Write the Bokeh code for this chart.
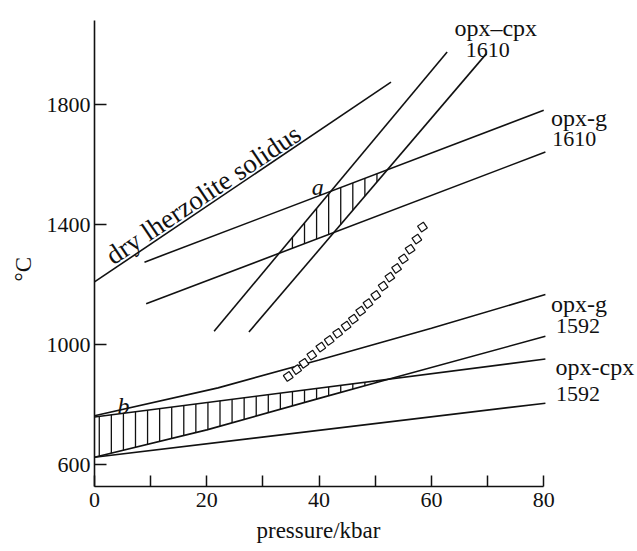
import numpy as np
from bokeh.plotting import figure
from bokeh.models import Range1d, FixedTicker, Title
from bokeh.core.properties import value
from bokeh.embed import file_html
from bokeh.resources import INLINE

# ---------------- data (pressure in kbar, temperature in degC) ----------------
solidus_P = [0.0, 52.8]
solidus_T = [1210, 1876]

cpx1610_hi_P = [21.3, 62.8]      # left steep line (opx-cpx 1610)
cpx1610_hi_T = [1046, 1976]
cpx1610_lo_P = [27.5, 69.8]      # right steep line (opx-cpx 1610)
cpx1610_lo_T = [1043, 1971]

g1610_hi_P = [8.9, 80.0]         # opx-g 1610 upper
g1610_hi_T = [1276, 1782]
g1610_lo_P = [9.2, 80.3]         # opx-g 1610 lower
g1610_lo_T = [1137, 1643]

g1592_hi_P = [0.0, 22.0, 40.0, 60.0, 80.3]   # opx-g 1592 upper
g1592_hi_T = [764, 857, 950, 1056, 1168]
g1592_lo_P = [0.0, 20.0, 40.0, 52.0, 80.3]   # opx-g 1592 lower
g1592_lo_T = [626, 717, 822, 884, 1029]

cpx1592_hi_P = [0.0, 80.3]       # opx-cpx 1592 upper
cpx1592_hi_T = [760, 953]
cpx1592_lo_P = [0.0, 80.3]       # opx-cpx 1592 lower
cpx1592_lo_T = [626, 806]

sq_P = [34.5, 36.0, 37.3, 38.7, 40.3, 41.8, 43.3, 44.8, 46.1, 47.4,
        48.7, 50.1, 51.4, 52.6, 53.8, 55.0, 56.2, 57.4, 58.4]
sq_T = [895, 918, 939, 966, 993, 1015, 1039, 1063, 1086, 1113,
        1138, 1165, 1196, 1226, 1255, 1287, 1319, 1353, 1393]

x_ticks = [0, 10, 20, 30, 40, 50, 60, 70, 80]
x_tick_labels = {0: "0", 10: "", 20: "20", 30: "", 40: "40", 50: "", 60: "60", 70: "", 80: "80"}
y_ticks = [600, 1000, 1400, 1800]

word_texts = ["opx\u2013cpx", "opx-g", "opx-g", "opx-cpx"]
word_P = [64.1, 81.3, 81.3, 82.1]
word_T = [2055, 1755, 1137, 926]
num_texts = ["1610", "1610", "1592", "1592"]
num_P = [66.1, 81.5, 82.2, 82.2]
num_T = [1982, 1687, 1062, 837]
pt_texts = ["a", "b"]
pt_P = [38.7, 4.1]
pt_T = [1528, 798]

# ---------------- figure ----------------
SERIF = "Liberation Serif"
INK = "#111111"

p = figure(width=637, height=551, x_range=Range1d(0, 96.7), y_range=Range1d(528.3, 2148),
           output_backend="svg", toolbar_location=None,
           min_border_left=94, min_border_right=0, min_border_top=0, min_border_bottom=65)
p.outline_line_color = None
p.grid.visible = False
p.background_fill_color = "white"
p.border_fill_color = "white"

for ax in (p.xaxis[0], p.yaxis[0]):
    ax.axis_line_width = 1.6
    ax.axis_line_color = INK
    ax.major_tick_line_width = 1.5
    ax.major_tick_line_color = INK
    ax.major_tick_out = 0
    ax.minor_tick_in = 0
    ax.minor_tick_out = 0
    ax.major_label_text_font = SERIF
    ax.major_label_text_font_size = "22px"
    ax.major_label_text_color = INK

p.xaxis.ticker = FixedTicker(ticks=x_ticks)
p.xaxis.major_label_overrides = x_tick_labels
p.xaxis.major_tick_in = 11
p.xaxis.bounds = (0, 80)
p.xaxis.major_label_standoff = 6

p.yaxis.ticker = FixedTicker(ticks=y_ticks)
p.yaxis.major_tick_in = 12
p.yaxis.bounds = (528.3, 2082)
p.yaxis.major_label_standoff = 4

# ---------------- lines ----------------
lw = 1.6
for P, T in [(solidus_P, solidus_T), (cpx1610_hi_P, cpx1610_hi_T), (cpx1610_lo_P, cpx1610_lo_T),
             (g1610_hi_P, g1610_hi_T), (g1610_lo_P, g1610_lo_T),
             (g1592_hi_P, g1592_hi_T), (g1592_lo_P, g1592_lo_T),
             (cpx1592_hi_P, cpx1592_hi_T), (cpx1592_lo_P, cpx1592_lo_T)]:
    p.line(P, T, line_color=INK, line_width=lw)

# ---------------- hatching (vertical strokes inside band intersections) ----------------
def line_at(P, xs, ys):
    xs = np.asarray(xs, float); ys = np.asarray(ys, float)
    if len(xs) > 2:
        return np.interp(P, xs, ys, left=np.nan, right=np.nan)
    return ys[0] + (ys[1] - ys[0]) / (xs[1] - xs[0]) * (P - xs[0])

hatch_x = np.arange(0.85, 80.0, 2.15)
hx0, hy0, hx1, hy1 = [], [], [], []
top_a = np.minimum(line_at(hatch_x, g1610_hi_P, g1610_hi_T), line_at(hatch_x, cpx1610_hi_P, cpx1610_hi_T))
bot_a = np.maximum(line_at(hatch_x, g1610_lo_P, g1610_lo_T), line_at(hatch_x, cpx1610_lo_P, cpx1610_lo_T))
top_b = np.minimum(line_at(hatch_x, g1592_hi_P, g1592_hi_T), line_at(hatch_x, cpx1592_hi_P, cpx1592_hi_T))
bot_b = np.maximum(line_at(hatch_x, g1592_lo_P, g1592_lo_T), line_at(hatch_x, cpx1592_lo_P, cpx1592_lo_T))
for top, bot in [(top_a, bot_a), (top_b, bot_b)]:
    ok = (top - bot) > 2
    hx0 += list(hatch_x[ok]); hx1 += list(hatch_x[ok])
    hy0 += list(bot[ok]); hy1 += list(top[ok])
p.segment(hx0, hy0, hx1, hy1, line_color=INK, line_width=1.3)

# ---------------- squares ----------------
p.scatter(sq_P, sq_T, marker="square", size=7, angle=0.6, fill_color="white",
          line_color=INK, line_width=1.2)

# ---------------- texts ----------------
p.text(word_P, word_T, text=word_texts, text_font=value(SERIF), text_font_size="24px",
       text_color=INK, text_align="left", text_baseline="alphabetic")
p.text(num_P, num_T, text=num_texts, text_font=value(SERIF), text_font_size="22px",
       text_color=INK, text_align="left", text_baseline="alphabetic")
p.text(pt_P, pt_T, text=pt_texts, text_font=value(SERIF), text_font_size="24px",
       text_font_style="italic", text_color=INK, text_align="left", text_baseline="alphabetic")
p.text([2.5], [1290], text=["dry lherzolite solidus"], text_font=value(SERIF),
       text_font_size="27px", angle=0.59, text_color=INK, text_align="left",
       text_baseline="alphabetic")

# axis titles as side titles
p.add_layout(Title(text="pressure/kbar", align="left", offset=162, standoff=13,
                   text_font=SERIF, text_font_size="23px", text_font_style="normal",
                   text_color=INK), "below")
p.add_layout(Title(text="\u00b0C", align="left", offset=205, standoff=16,
                   text_font=SERIF, text_font_size="23px", text_font_style="normal",
                   text_color=INK), "left")

open("out.html", "w").write(file_html(p, INLINE))
